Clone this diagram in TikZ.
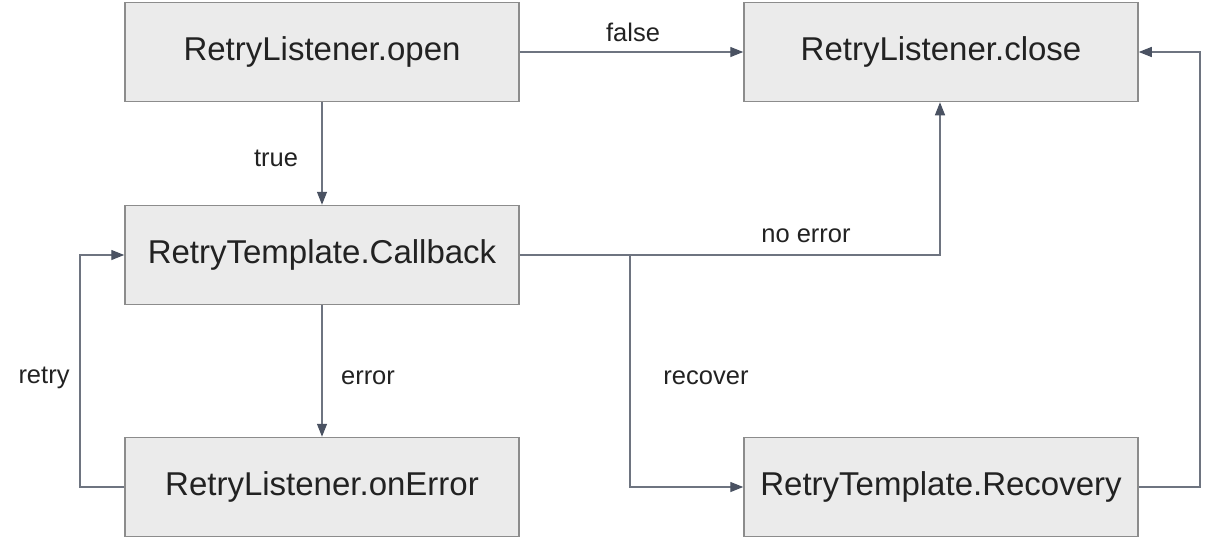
\documentclass[tikz,border=0pt]{standalone}
\usepackage{fontspec}
\setmainfont{Liberation Sans}
\usetikzlibrary{arrows.meta}
\definecolor{boxfill}{HTML}{EBEBEB}
\definecolor{boxline}{HTML}{8C8C8C}
\definecolor{conn}{HTML}{6E7480}
\definecolor{tip}{HTML}{4A5262}
\definecolor{txt}{HTML}{222222}
\begin{document}
\begin{tikzpicture}[x=1pt,y=-1pt,
  blk/.style={draw=boxline,line width=1.5pt,fill=boxfill,minimum width=394pt,minimum height=99pt,inner sep=0pt,font=\fontsize{33}{38}\selectfont,text=txt},
  conn/.style={draw=conn,line width=1.4pt,-{Triangle[length=13pt,width=10pt,color=tip]}},
  lbl/.style={font=\fontsize{25.5}{30}\selectfont,text=txt,inner sep=0pt}]
\useasboundingbox (0,0) rectangle (1210,542);
\node[blk] (open) at (322,52) {RetryListener.open};
\node[blk] (close) at (941,52) {RetryListener.close};
\node[blk] (cb) at (322,255) {RetryTemplate.Callback};
\node[blk] (err) at (322,487) {RetryListener.onError};
\node[blk] (rec) at (941,487) {RetryTemplate.Recovery};
\coordinate (split) at (630,255);
\coordinate (c1) at (940,255);
\coordinate (l1) at (80,487);
\coordinate (l2) at (80,255);
\coordinate (r1) at (1200,487);
\coordinate (r2) at (1200,52);
\coordinate (s2) at (630,487);
\draw[conn] (open.east) -- (close.west);
\node[lbl] (lf) at (633,32) {false};
\draw[conn] (open.south) -- (cb.north);
\node[lbl] (lt) at (276,158) {true};
\draw[conn] (cb.east) -- (c1) -- (c1 |- close.south);
\node[lbl] (lne) at (806,236) {no error};
\draw[conn] (cb.south) -- (err.north);
\node[lbl] (le) at (368,378) {error};
\draw[conn] (err.west) -- (l1) -- (l2) -- (cb.west);
\node[lbl] (lr) at (44,378) {retry};
\draw[conn] (split) -- (s2) -- (rec.west);
\node[lbl] (lrc) at (706,378) {recover};
\draw[conn] (rec.east) -- (r1) -- (r2) -- (close.east);
\end{tikzpicture}
\end{document}
